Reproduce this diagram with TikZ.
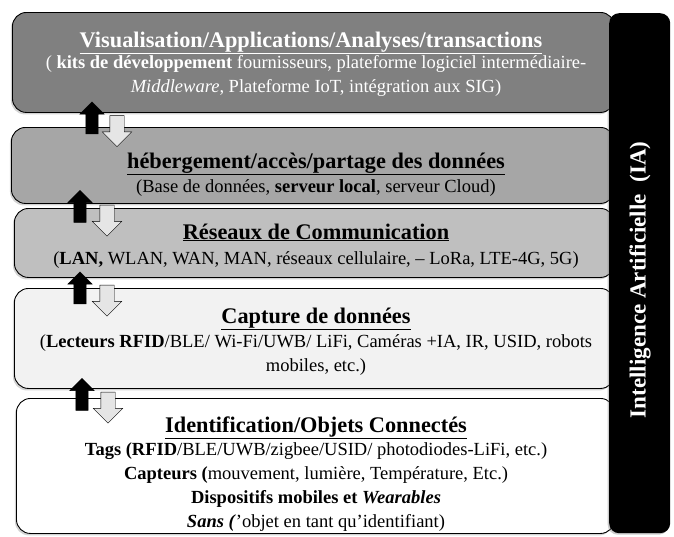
\documentclass[tikz,border=0pt]{standalone}
\usepackage{fontspec}
\setmainfont{Liberation Serif}
\usepackage{xcolor}
\usepackage{tikz}
\usetikzlibrary{positioning,shapes.arrows,shadows}

\definecolor{couche1}{gray}{0.50}
\definecolor{couche2}{gray}{0.65}
\definecolor{couche3}{gray}{0.75}
\definecolor{couche4}{gray}{0.95}

\begin{document}
\begin{tikzpicture}[x=1pt,y=-1pt,
    couche/.style={draw=black,line width=0.9pt,rounded corners=14pt,anchor=north west,inner sep=0pt,
        drop shadow={shadow xshift=-1.5pt,shadow yshift=-2pt,opacity=.35}},
    titre/.style={anchor=base,font=\fontsize{22.3}{25}\selectfont\bfseries},
    texte/.style={anchor=base,align=center,font=\fontsize{18.5}{23.7}\selectfont},
    monte/.style={single arrow,shape border rotate=90,fill=black,draw=black,inner sep=6pt,
        minimum height=32pt,minimum width=24pt,single arrow head extend=6pt,outer sep=0pt},
    descend/.style={single arrow,shape border rotate=270,fill=white!90!black,draw=black,inner sep=7pt,
        minimum height=31pt,minimum width=29pt,single arrow head extend=7.5pt,outer sep=0pt}]

    \useasboundingbox (0,0) rectangle (674,536);

    % les couches
    \node[couche,fill=couche1,minimum width=602pt,minimum height=100pt] (visu) at (12,12) {};
    \node[couche,fill=couche2,minimum width=603pt,minimum height=76pt] (heberg) at (11,127) {};
    \node[couche,fill=couche3,minimum width=600pt,minimum height=69pt] (reseau) at (14,208) {};
    \node[couche,fill=couche4,minimum width=600pt,minimum height=100pt] (capture) at (14,288) {};
    \node[couche,fill=white,minimum width=598pt,minimum height=135pt] (ident) at (16,398) {};

    % IA
    \node[fill=black,rounded corners=10pt,anchor=north west,minimum width=61pt,minimum height=520pt,
        drop shadow={shadow xshift=-1.5pt,shadow yshift=-1.5pt,opacity=.4}] (ia) at (609,13) {};
    \node[rotate=90,text=white,font=\fontsize{23}{26}\selectfont\bfseries] (iatxt) at (640,280)
        {Intelligence Artificielle~~(IA)};

    % textes (ancre base = derniere ligne)
    \node[titre,text=white] (visut) at (311,47) {\underline{Visualisation/Applications/Analyses/transactions}};
    \node[texte,text=white] (visub) at (316,92)
        {( \textbf{kits de développement} fournisseurs, plateforme logiciel intermédiaire-\\
         \textit{Middleware}, Plateforme IoT, intégration aux SIG)};

    \node[titre] (hebergt) at (316,168) {\underline{hébergement/accès/partage des données}};
    \node[texte] (hebergb) at (316,192) {(Base de données, \textbf{serveur local}, serveur Cloud)};

    \node[titre] (reseaut) at (316,239) {\underline{Réseaux de Communication}};
    \node[texte] (reseaub) at (316,264)
        {(\textbf{LAN,} WLAN, WAN, MAN, réseaux cellulaire, – LoRa, LTE-4G, 5G)};

    \node[titre] (capturet) at (316,323) {\underline{Capture de données}};
    \node[texte] (captureb) at (316,371)
        {(\textbf{Lecteurs RFID}/BLE/ Wi-Fi/UWB/ LiFi, Caméras +IA, IR, USID, robots\\ mobiles, etc.)};

    \node[titre] (identt) at (316,432) {\underline{Identification/Objets Connectés}};
    \node[texte] (identb) at (316,527)
        {\textbf{Tags (RFID}/BLE/UWB/zigbee/USID/ photodiodes-LiFi, etc.)\\
         \textbf{Capteurs (}mouvement, lumière, Température, Etc.)\\
         \textbf{Dispositifs mobiles et \textit{Wearables}}\\
         \textbf{\textit{Sans (}}’objet en tant qu’identifiant)};

    % fleches entre couches
    \node[monte] (m1) at (92,121) {};
    \node[descend] (d1) at (117,127.5) {};
    \node[monte] (m2) at (80,209.5) {};
    \node[descend] (d2) at (107,217) {};
    \node[monte] (m3) at (80,291) {};
    \node[descend] (d3) at (107,297) {};
    \node[monte] (m4) at (82,397.5) {};
    \node[descend] (d4) at (108,404) {};
\end{tikzpicture}
\end{document}
